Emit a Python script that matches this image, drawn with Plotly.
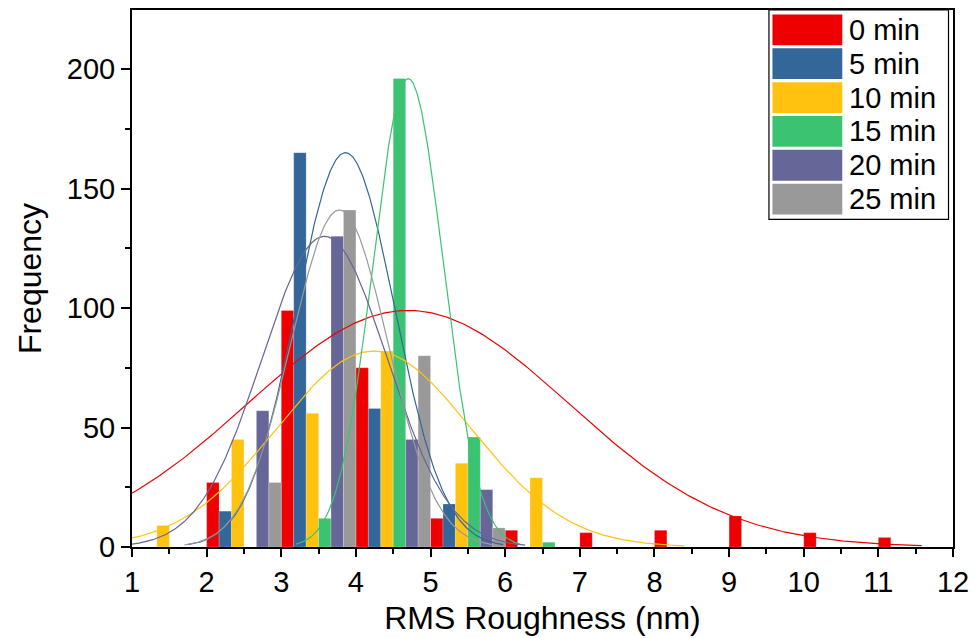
import numpy as np
import plotly.graph_objects as go

# Histogram bins of width 1 nm: [1,2), [2,3), ..., [11,12)
bin_left = [1, 2, 3, 4, 5, 6, 7, 8, 9, 10, 11]

series_names = ["0 min", "5 min", "10 min", "15 min", "20 min", "25 min"]
series_colors = ["#EE0000", "#336699", "#FFC20E", "#3CC371", "#666699", "#999999"]

counts_0min = [0, 27, 99, 75, 12, 7, 6, 7, 13, 6, 4]
counts_5min = [0, 15, 165, 58, 18, 0, 0, 0, 0, 0, 0]
counts_10min = [9, 45, 56, 82, 35, 29, 0, 0, 0, 0, 0]
counts_15min = [0, 0, 12, 196, 46, 2, 0, 0, 0, 0, 0]
counts_20min = [0, 57, 130, 45, 24, 0, 0, 0, 0, 0, 0]
counts_25min = [0, 27, 141, 80, 8, 0, 0, 0, 0, 0, 0]

# Normal-curve parameters (mean, standard deviation) for each series, nm
fit_mean = [4.70, 3.86, 4.24, 4.70, 3.58, 3.78]
fit_sigma = [2.15, 0.66, 1.30, 0.47, 0.84, 0.65]

x_ticks = list(range(1, 13))
y_ticks = [0, 50, 100, 150, 200]

all_counts = [counts_0min, counts_5min, counts_10min,
              counts_15min, counts_20min, counts_25min]

fig = go.Figure()
n_series = len(series_names)
bar_w = 1.0 / n_series

# side-by-side bars inside each 1 nm bin
for k, (name, color, counts) in enumerate(zip(series_names, series_colors, all_counts)):
    y = [c if c > 0 else None for c in counts]
    fig.add_trace(go.Bar(
        x=bin_left, y=y, name=name,
        width=bar_w, offset=k * bar_w,
        marker=dict(color=color, line=dict(color="rgba(255,255,255,0.35)", width=0.6)),
        showlegend=False,
    ))

# fitted normal curves, scaled to the tallest bar of each series
for name, color, counts, mu, sd in zip(series_names, series_colors, all_counts, fit_mean, fit_sigma):
    peak = max(counts)
    xs = np.linspace(mu - 3.2 * sd, mu + 3.2 * sd, 400)
    ys = peak * np.exp(-((xs - mu) ** 2) / (2 * sd ** 2))
    fig.add_trace(go.Scatter(
        x=xs, y=ys, mode="lines", line=dict(color=color, width=1.2),
        showlegend=False, hoverinfo="skip",
    ))

# plot-area pixel geometry for the hand-drawn legend
W, H = 977, 638
L, R, T, B = 132, 22, 8, 89
pw, ph = W - L - R, H - T - B


def px(xp):
    return (xp - L) / pw


def py(yp):
    return (H - B - yp) / ph


shapes = [dict(type="rect", xref="paper", yref="paper",
               x0=px(770.5), x1=px(950.5), y0=py(219), y1=py(8),
               line=dict(color="black", width=1.2), fillcolor="white", layer="above")]
annotations = []
for i, (name, color) in enumerate(zip(series_names, series_colors)):
    top = 12.5 + i * 34.1
    shapes.append(dict(type="rect", xref="paper", yref="paper",
                       x0=px(774), x1=px(844), y0=py(top + 31), y1=py(top),
                       line=dict(width=0), fillcolor=color, layer="above"))
    annotations.append(dict(xref="paper", yref="paper", x=px(849), y=py(top + 15.5),
                            text=name, showarrow=False, xanchor="left", yanchor="middle",
                            font=dict(size=29, color="black")))

fig.update_layout(
    width=W, height=H,
    margin=dict(l=L, r=R, t=T, b=B, pad=0),
    paper_bgcolor="white", plot_bgcolor="white",
    barmode="overlay",
    font=dict(family="Arial, Liberation Sans, sans-serif", color="black"),
    shapes=shapes, annotations=annotations,
    showlegend=False,
)

fig.update_xaxes(
    range=[1, 12], tickvals=x_ticks, ticktext=[str(v) for v in x_ticks],
    ticks="outside", ticklen=8, tickwidth=2, tickcolor="black",
    showline=True, linewidth=2, linecolor="black", mirror=True,
    showgrid=False, zeroline=False,
    minor=dict(ticks="outside", ticklen=5, tickwidth=2, tickcolor="black", dtick=0.5, tick0=1),
    tickfont=dict(size=29),
    title=dict(text="RMS Roughness (nm)", font=dict(size=32), standoff=10),
)
fig.update_yaxes(
    range=[0, 224.7], tickvals=y_ticks,
    ticks="outside", ticklen=9, tickwidth=2, tickcolor="black",
    showline=True, linewidth=2, linecolor="black", mirror=True,
    showgrid=False, zeroline=False,
    minor=dict(ticks="outside", ticklen=5, tickwidth=2, tickcolor="black", dtick=25, tick0=0),
    tickfont=dict(size=29),
    title=dict(text="Frequency", font=dict(size=32), standoff=16),
)

fig.write_html("out.html")
